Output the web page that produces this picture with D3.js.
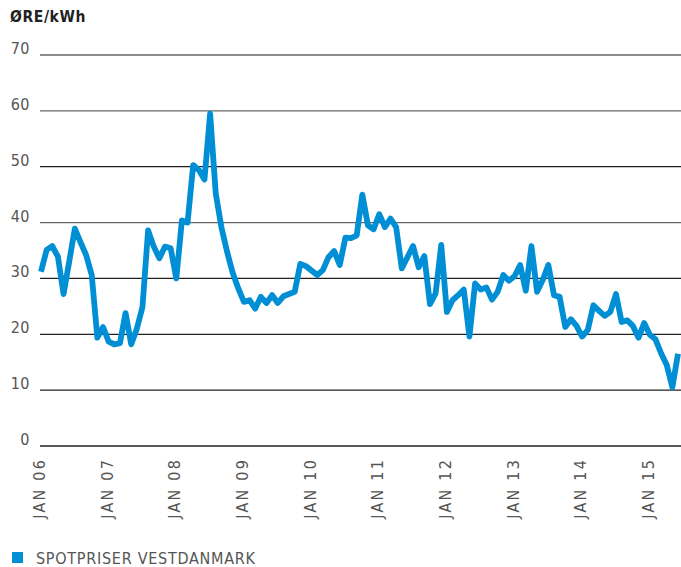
<!DOCTYPE html>
<html>
<head>
<meta charset="utf-8">
<script src="https://cdn.jsdelivr.net/npm/d3@7"></script>
<style>
  body { margin: 0; background: #fff; }
  text { font-family: "DejaVu Sans Condensed", "Liberation Sans Narrow", sans-serif; }
</style>
</head>
<body>
<div id="chart"></div>
<script>
// monthly spot price, jan 2006 - jun 2015 (øre/kWh)
var prices = [
  31.2, 35.1, 35.8, 33.9, 27.2, 33.0, 38.9, 36.5, 34.2, 30.6, 19.4, 21.3,
  18.7, 18.2, 18.4, 23.8, 18.2, 21.0, 24.9, 38.6, 35.7, 33.6, 35.7, 35.4,
  30.0, 40.4, 40.0, 50.3, 49.4, 47.7, 59.5, 45.2, 39.2, 34.8, 31.0, 28.2,
  25.8, 26.1, 24.6, 26.7, 25.6, 27.0, 25.6, 26.8, 27.2, 27.6, 32.6, 32.2,
  31.4, 30.6, 31.5, 33.8, 34.9, 32.4, 37.3, 37.2, 37.7, 45.0, 39.5, 38.8,
  41.5, 39.2, 40.7, 39.2, 31.8, 33.8, 35.8, 32.0, 34.0, 25.4, 27.3, 36.0,
  24.0, 26.1, 27.0, 28.0, 19.6, 29.1, 28.0, 28.4, 26.2, 27.6, 30.6, 29.6,
  30.4, 32.4, 27.8, 35.8, 27.6, 29.7, 32.4, 27.0, 26.7, 21.3, 22.7, 21.5,
  19.6, 20.8, 25.2, 24.2, 23.3, 24.0, 27.2, 22.2, 22.5, 21.5, 19.4, 22.0,
  19.9, 19.1, 16.6, 14.5, 10.5, 16.5
];
var yearLabels = ["JAN 06", "JAN 07", "JAN 08", "JAN 09", "JAN 10",
                  "JAN 11", "JAN 12", "JAN 13", "JAN 14", "JAN 15"];
var yearIndex = [0, 12, 24, 36, 48, 60, 72, 84, 96, 108];
var yTicks = [0, 10, 20, 30, 40, 50, 60, 70];
var seriesName = "SPOTPRISER VESTDANMARK";

var width = 681, height = 567;

var svg = d3.select("#chart").append("svg")
    .attr("width", width)
    .attr("height", height);

var x = d3.scaleLinear().domain([0, prices.length - 1]).range([41, 678]);
var y = d3.scaleLinear().domain([0, 70]).range([446, 55]);

// title
svg.append("text")
    .attr("x", 10)
    .attr("y", 22)
    .attr("font-size", 15.5)
    .attr("font-weight", "bold")
    .attr("letter-spacing", 0.6)
    .attr("fill", "#222")
    .text("ØRE/kWh");

// grid lines + y labels
var grid = svg.append("g");
grid.selectAll("line")
    .data(yTicks)
    .enter().append("line")
    .attr("x1", 40)
    .attr("x2", width)
    .attr("y1", function(d) { return y(d); })
    .attr("y2", function(d) { return y(d); })
    .attr("stroke", function(d) { return (d == 70 || d == 60 || d == 40) ? "#666" : "#222"; })
    .attr("stroke-width", 1.3);

grid.selectAll("text")
    .data(yTicks)
    .enter().append("text")
    .attr("x", 30)
    .attr("y", function(d) { return y(d) - 1; })
    .attr("text-anchor", "end")
    .attr("font-size", 16)
    .attr("letter-spacing", 0.5)
    .attr("fill", "#555")
    .text(function(d) { return d; });

// x labels (rotated)
svg.selectAll(".xl")
    .data(yearIndex)
    .enter().append("text")
    .attr("class", "xl")
    .attr("transform", function(d) { return "translate(" + (x(d) + 4) + ",458) rotate(-90)"; })
    .attr("text-anchor", "end")
    .attr("font-size", 16)
    .attr("letter-spacing", 2.2)
    .attr("fill", "#555")
    .text(function(d, i) { return yearLabels[i]; });

// price line
var line = d3.line()
    .x(function(d, i) { return x(i); })
    .y(function(d) { return y(d); });

svg.append("path")
    .datum(prices)
    .attr("d", line)
    .attr("fill", "none")
    .attr("stroke", "#008fd5")
    .attr("stroke-width", 5.8)
    .attr("stroke-linejoin", "round");

// legend
svg.append("rect")
    .attr("x", 12)
    .attr("y", 552)
    .attr("width", 11)
    .attr("height", 11)
    .attr("fill", "#008fd5");

svg.append("text")
    .attr("x", 36)
    .attr("y", 564)
    .attr("font-size", 16)
    .attr("textLength", 219)
    .attr("lengthAdjust", "spacing")
    .attr("fill", "#555")
    .text(seriesName);
</script>
</body>
</html>
